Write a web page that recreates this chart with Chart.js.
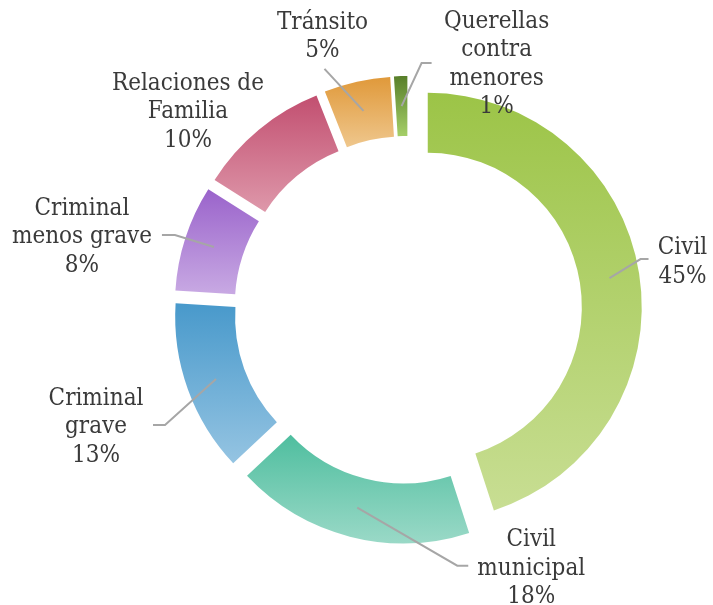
<!DOCTYPE html>
<html>
<head>
<meta charset="utf-8">
<script src="https://cdn.jsdelivr.net/npm/chart.js@4.4.1/dist/chart.umd.min.js"></script>
<style>
html, body { margin: 0; padding: 0; background: #fff; }
#wrap { width: 713px; height: 605px; }
</style>
</head>
<body>
<div id="wrap"><canvas id="materias"></canvas></div>
<script>
// categorias (ya partidas en lineas como en el original) y porcentajes
var categorias = [
    ['Civil'],
    ['Civil', 'municipal'],
    ['Criminal', 'grave'],
    ['Criminal', 'menos grave'],
    ['Relaciones de', 'Familia'],
    ['Tránsito'],
    ['Querellas', 'contra', 'menores']
];
var porcentajes = [45, 18, 13, 8, 10, 5, 1];

// degradado de cada porcion: arriba / abajo
var colorArriba = ['#9CC447', '#4FBE9F', '#4899CB', '#9A63CB', '#C24F70', '#E0993A', '#587F2A'];
var colorAbajo  = ['#C8DE93', '#9AD9C7', '#95C4E2', '#C8A9E3', '#DE98AA', '#EFC78D', '#A5CF68'];

// donde va cada etiqueta, relativo al punto medio de su porcion
var posEtiqueta = [
    { tx: 73,   ty: -16, guia: [[31, -19], [39, -19]] },
    { tx: 174,  ty: 61,  guia: [[100, 58], [111, 58]] },
    { tx: -120, ty: 48,  guia: [[-51, 46], [-63, 46]] },
    { tx: -132, ty: -10, guia: [[-39, -12], [-52, -12]] },
    { tx: -90,  ty: -41, guia: null },
    { tx: -41,  ty: -74, guia: [[-39, -42]] },
    { tx: 95,   ty: -42, guia: [[20, -43], [30, -43]] }
];

var EXPLOSION = 20;
var ALTO_LINEA = 28.5;

var explotar = {
    id: 'explotar',
    beforeDatasetDraw: function (chart, args) {
        var ctx = chart.ctx;
        args.meta.data.forEach(function (arc, i) {
            var mid = (arc.startAngle + arc.endAngle) / 2;
            var minY = Infinity, maxY = -Infinity;
            for (var k = 0; k <= 60; k++) {
                var a = arc.startAngle + (arc.endAngle - arc.startAngle) * k / 60;
                [arc.innerRadius, arc.outerRadius].forEach(function (r) {
                    var y = arc.y + Math.sin(a) * r;
                    if (y < minY) minY = y;
                    if (y > maxY) maxY = y;
                });
            }
            var grad = ctx.createLinearGradient(0, minY, 0, maxY);
            grad.addColorStop(0, colorArriba[i]);
            grad.addColorStop(1, colorAbajo[i]);
            arc.options = Object.assign({}, arc.options, { backgroundColor: grad });
            ctx.save();
            ctx.translate(Math.cos(mid) * EXPLOSION, Math.sin(mid) * EXPLOSION);
            arc.draw(ctx);
            ctx.restore();
        });
        return false;
    }
};

var etiquetas = {
    id: 'etiquetas',
    afterDraw: function (chart) {
        var ctx = chart.ctx;
        var meta = chart.getDatasetMeta(0);
        var total = porcentajes.reduce(function (a, b) { return a + b; }, 0);
        ctx.save();
        meta.data.forEach(function (arc, i) {
            var mid = (arc.startAngle + arc.endAngle) / 2;
            var rm = (arc.innerRadius + arc.outerRadius) / 2 + EXPLOSION;
            var ax = arc.x + Math.cos(mid) * rm;
            var ay = arc.y + Math.sin(mid) * rm;
            var p = posEtiqueta[i];
            if (p.guia) {
                ctx.beginPath();
                ctx.moveTo(ax, ay);
                p.guia.forEach(function (q) { ctx.lineTo(ax + q[0], ay + q[1]); });
                ctx.strokeStyle = '#A6A6A6';
                ctx.lineWidth = 2;
                ctx.stroke();
            }
            var lineas = categorias[i].concat([Math.round(porcentajes[i] / total * 100) + '%']);
            var y0 = ay + p.ty - (lineas.length - 1) * ALTO_LINEA / 2;
            ctx.font = 'condensed 24px "DejaVu Serif"';
            ctx.fillStyle = '#3A3A3A';
            ctx.textAlign = 'center';
            ctx.textBaseline = 'middle';
            lineas.forEach(function (t, k) {
                ctx.fillText(t, ax + p.tx, y0 + k * ALTO_LINEA);
            });
        });
        ctx.restore();
    }
};

window.addEventListener('load', function () {
    var ctx = document.getElementById('materias').getContext('2d');
    new Chart(ctx, {
        type: 'doughnut',
        data: {
            labels: categorias,
            datasets: [
                {
                    data: porcentajes,
                    backgroundColor: colorArriba,
                    borderWidth: 0,
                    clip: false
                }
            ]
        },
        options: {
            responsive: true,
            maintainAspectRatio: false,
            animation: false,
            events: [],
            cutout: '72%',
            layout: {
                padding: { left: 194, right: 91, top: 96, bottom: 81 }
            },
            plugins: {
                legend: { display: false },
                tooltip: { enabled: false }
            }
        },
        plugins: [explotar, etiquetas]
    });
});
</script>
</body>
</html>
